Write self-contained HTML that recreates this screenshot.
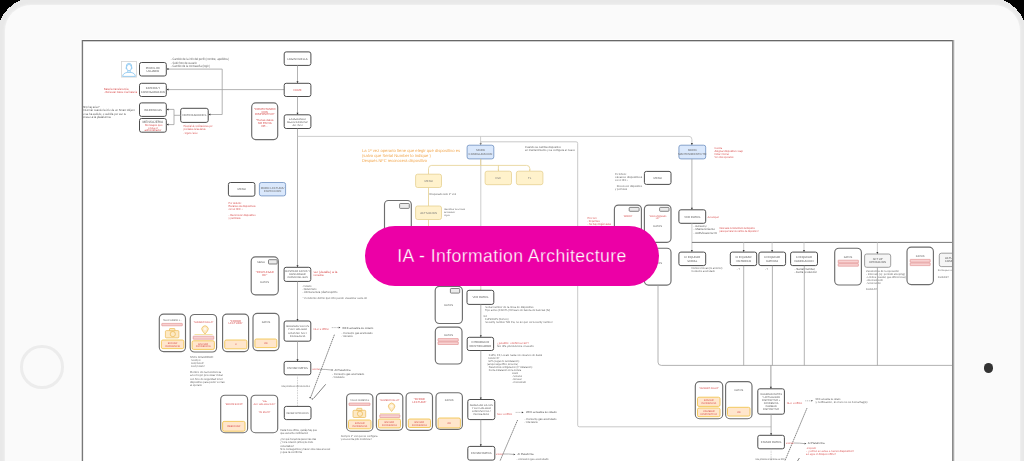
<!DOCTYPE html>
<html><head><meta charset="utf-8">
<style>
html,body{margin:0;padding:0;}
body{width:1024px;height:461px;overflow:hidden;background:#000;position:relative;font-family:"Liberation Sans",sans-serif;}
#frame{position:absolute;left:-4px;top:-4px;width:1032px;height:640px;background:#e8e8e8;}
#corners{position:absolute;left:0;top:0;}
#bezel{position:absolute;left:4.5px;top:4.5px;width:1015px;height:620px;border-radius:26px;background:#fafafa;box-shadow:0 0 2px 0.5px #f0f0f0;}
#home{position:absolute;left:20.3px;top:345.1px;width:37.5px;height:37.5px;border-radius:50%;border:3.5px solid #ececec;}
#cam{position:absolute;left:984.2px;top:363.4px;width:9.2px;height:9.2px;border-radius:50%;background:#333;}
#screen{position:absolute;left:82px;top:40px;width:869px;height:440px;border-left:1px solid #787878;border-top:1px solid #686868;border-right:1px solid #8a8a8a;background:#fff;box-shadow:1px 0 0 0 #ababab,2px 0 0 0 #e6e6e6,3px 0 0 0 #fdfdfd,-1px 0 0 0 #d8d8d8,-2px 0 0 0 #fdfdfd,0 -1px 0 0 #fefefe,inset 0 1px 0 0 #cfcfcf,inset 1px 0 0 0 #f0f0f0;}
#dg{position:absolute;left:0;top:0;}
#dg text{font-family:"Liberation Sans",sans-serif;text-rendering:geometricPrecision;}
#dg{filter:blur(0.3px);}
#clip{position:absolute;left:83px;top:41px;width:869px;height:430px;overflow:hidden;}
#pill{position:absolute;left:365px;top:226px;width:294px;height:59.6px;border-radius:30px;background:#ec00a6;color:#fff;font-size:17.6px;letter-spacing:0.43px;line-height:61.5px;text-align:center;white-space:nowrap;-webkit-text-stroke:0.3px #ec00a6;}
</style></head><body>
<div id="frame"></div>
<svg id="corners" width="1024" height="40" viewBox="0 0 1024 40"><path shape-rendering="crispEdges" fill="#000" d="M0,0 L20.5,0 A42.5,42.5 0 0 0 0,20.5 Z M1024,0 L1003.5,0 A42.5,42.5 0 0 1 1024,20.5 Z"/></svg>
<div id="bezel"></div>
<div id="home"></div>
<div id="cam"></div>
<div id="screen"></div>
<div id="clip">
<svg id="dg" width="1024" height="461" viewBox="83 41 1024 461" style="position:absolute;left:0;top:0">
<rect x="121.4" y="61.4" width="15" height="15.7" rx="0" fill="#fff" stroke="#d4d4d4" stroke-width="0.8" />
<g fill="none" stroke="#6cb8ec" stroke-width="0.65"><ellipse cx="129" cy="67.6" rx="2.5" ry="3.2"/><path d="M126.3,66.6 Q126.2,63.4 129,63.2 Q131.8,63.4 131.7,66.6"/><path d="M126.4,67.2 Q125.6,67.6 126.3,69 M131.6,67.2 Q132.4,67.6 131.7,69"/><path d="M127.8,70.6 V72.4 M130.2,70.6 V72.4"/><path d="M122.6,76.4 Q122.8,73.2 127.2,72.4 L130.8,72.4 Q135.2,73.2 135.4,76.4 Z"/></g>
<rect x="139.5" y="62.5" width="26.8" height="13.5" rx="2" fill="#fff" stroke="#4d4d4d" stroke-width="1.0" />
<text x="152.9" y="68.5" font-size="2.8" fill="#585858" text-anchor="middle">PERFIL DE</text>
<text x="152.9" y="71.9" font-size="2.8" fill="#585858" text-anchor="middle">USUARIO</text>
<rect x="139.5" y="83.3" width="26.8" height="13.2" rx="2" fill="#fff" stroke="#4d4d4d" stroke-width="1.0" />
<text x="152.9" y="89.2" font-size="2.8" fill="#585858" text-anchor="middle">BATERIA Y</text>
<text x="152.9" y="92.6" font-size="2.8" fill="#585858" text-anchor="middle">CONFIGURACION</text>
<rect x="139.5" y="102.9" width="26.8" height="13.5" rx="2" fill="#fff" stroke="#4d4d4d" stroke-width="1.0" />
<text x="152.9" y="110.6" font-size="2.8" fill="#585858" text-anchor="middle">INCIDENCIAS</text>
<rect x="139.5" y="118.5" width="26.8" height="13.7" rx="2" fill="#fff" stroke="#4d4d4d" stroke-width="1.0" />
<text x="152.9" y="122.8" font-size="3.24" fill="#5a5a5a" text-anchor="middle">MENSAJERIA</text>
<text x="152.9" y="125.8" font-size="2.8080000000000003" fill="#d85050" text-anchor="middle">- Mensajes que</text>
<text x="152.9" y="128.6" font-size="2.8080000000000003" fill="#d85050" text-anchor="middle">envia el</text>
<text x="152.9" y="131.4" font-size="2.8080000000000003" fill="#d85050" text-anchor="middle">administrador</text>
<rect x="180.7" y="108.3" width="27.5" height="14.1" rx="2" fill="#fff" stroke="#4d4d4d" stroke-width="1.0" />
<text x="194.4" y="116.3" font-size="2.8" fill="#585858" text-anchor="middle">NOTIFICACIONES</text>
<text x="170.8" y="60.3" font-size="3.132" fill="#666" text-anchor="start" textLength="58" lengthAdjust="spacingAndGlyphs">- Cambio de la info del perfil (nombre, apellidos)</text>
<text x="170.8" y="63.5" font-size="3.132" fill="#666" text-anchor="start" textLength="26" lengthAdjust="spacingAndGlyphs">- Subir foto de usuario</text>
<text x="170.8" y="66.7" font-size="3.132" fill="#666" text-anchor="start" textLength="39" lengthAdjust="spacingAndGlyphs">- Cambio de la contraseña (login)</text>
<text x="104" y="89.8" font-size="3.024" fill="#d85050" text-anchor="start" textLength="24.5" lengthAdjust="spacingAndGlyphs">Batería transferencia</text>
<text x="104" y="93" font-size="3.024" fill="#d85050" text-anchor="start" textLength="33" lengthAdjust="spacingAndGlyphs">- Refrescar Datos nivel batería</text>
<text x="81.5" y="108.2" font-size="3.024" fill="#555" text-anchor="start" textLength="18" lengthAdjust="spacingAndGlyphs">¿NFC hay aviso?</text>
<text x="81.5" y="111.4" font-size="3.024" fill="#555" text-anchor="start" textLength="53" lengthAdjust="spacingAndGlyphs">- Informar cuando la info de un Smart Object</text>
<text x="81.5" y="114.6" font-size="3.024" fill="#555" text-anchor="start" textLength="44.5" lengthAdjust="spacingAndGlyphs">no se ha subido, o subirla por ser tu</text>
<text x="81.5" y="117.8" font-size="3.024" fill="#555" text-anchor="start" textLength="29" lengthAdjust="spacingAndGlyphs">acceso a la plataforma</text>
<text x="183.5" y="127.3" font-size="3.024" fill="#d85050" text-anchor="start" textLength="29" lengthAdjust="spacingAndGlyphs">Historial de notificaciones por</text>
<text x="183.5" y="130.4" font-size="3.024" fill="#d85050" text-anchor="start" textLength="22" lengthAdjust="spacingAndGlyphs">prioridades de las alertas</text>
<text x="183.5" y="133.5" font-size="3.024" fill="#d85050" text-anchor="start" textLength="14" lengthAdjust="spacingAndGlyphs">- Urgente / aviso</text>
<path d="M166.3,69.1 H222.2 V114.5 H208.2" fill="none" stroke="#a0a0a0" stroke-width="0.8"/>
<polygon points="166.4,69.1 168.5,68.1 168.5,70.1" fill="#333"/>
<path d="M166.3,89.6 H284.2" fill="none" stroke="#a0a0a0" stroke-width="0.8"/>
<polygon points="166.4,89.6 168.5,88.6 168.5,90.6" fill="#333"/>
<path d="M180.7,115.3 H174 V109.4 H166.3 M174,115.3 V124.6 H166.3" fill="none" stroke="#a0a0a0" stroke-width="0.8"/>
<polygon points="166.4,109.4 168.5,108.4 168.5,110.4" fill="#333"/>
<polygon points="166.4,124.6 168.5,123.6 168.5,125.6" fill="#333"/>
<polygon points="208.3,114.5 210.4,113.5 210.4,115.5" fill="#333"/>
<rect x="284.2" y="51.9" width="26.7" height="13.5" rx="2" fill="#fff" stroke="#4d4d4d" stroke-width="1.0" />
<text x="297.5" y="59.6" font-size="2.8" fill="#585858" text-anchor="middle">LOGIN/HUELLA</text>
<path d="M297.5,65.4 V83.3" fill="none" stroke="#a0a0a0" stroke-width="0.8"/>
<polygon points="297.5,83.3 296.5,81.2 298.5,81.2" fill="#333"/>
<rect x="284.2" y="83.3" width="26.7" height="13.2" rx="2" fill="#fff" stroke="#4d4d4d" stroke-width="1.0" />
<text x="297.5" y="90.9" font-size="2.8" fill="#d85050" text-anchor="middle">HOME</text>
<path d="M297.5,96.5 V114.8" fill="none" stroke="#a0a0a0" stroke-width="0.8"/>
<polygon points="297.5,114.8 296.5,112.7 298.5,112.7" fill="#333"/>
<rect x="284.2" y="114.8" width="26.7" height="13.7" rx="2" fill="#fff" stroke="#4d4d4d" stroke-width="1.0" />
<text x="297.5" y="119.7" font-size="2.7" fill="#585858" text-anchor="middle">ESPERANDO</text>
<text x="297.5" y="122.6" font-size="2.7" fill="#585858" text-anchor="middle">MEDICION/DISP.</text>
<text x="297.5" y="125.5" font-size="2.7" fill="#585858" text-anchor="middle">ACTIVO</text>
<rect x="251.7" y="102.9" width="26" height="36.7" rx="4" fill="#fff" stroke="#6e6e6e" stroke-width="1.15" />
<text x="264.7" y="109.6" font-size="2.9160000000000004" fill="#d85050" text-anchor="middle">&quot;CONECTANDO</text>
<text x="264.7" y="112.5" font-size="2.9160000000000004" fill="#d85050" text-anchor="middle">CON</text>
<text x="264.7" y="115.4" font-size="2.9160000000000004" fill="#d85050" text-anchor="middle">DISPOSITIVO&quot;</text>
<text x="264.7" y="120.8" font-size="2.9160000000000004" fill="#d85050" text-anchor="middle">&quot;Tienes datos</text>
<text x="264.7" y="123.7" font-size="2.9160000000000004" fill="#d85050" text-anchor="middle">NO ENVIA</text>
<text x="264.7" y="126.6" font-size="2.9160000000000004" fill="#d85050" text-anchor="middle">DE...</text>
<path d="M297.5,128.5 V267.3" fill="none" stroke="#a0a0a0" stroke-width="0.8"/>
<polygon points="297.5,267.3 296.5,265.2 298.5,265.2" fill="#333"/>
<path d="M297.5,136.4 H689 Q691.9,136.4 691.9,139.3 V145.2" fill="none" stroke="#c2c2c2" stroke-width="0.8"/>
<polygon points="691.9,145.2 690.9,143.1 692.9,143.1" fill="#333"/>
<path d="M480.6,136.4 V145.2" fill="none" stroke="#c2c2c2" stroke-width="0.8"/>
<polygon points="480.6,145.2 479.6,143.1 481.6,143.1" fill="#333"/>
<rect x="228.4" y="182.5" width="26.5" height="13.7" rx="2" fill="#fff" stroke="#4d4d4d" stroke-width="1.0" />
<text x="241.7" y="190.3" font-size="2.8" fill="#585858" text-anchor="middle">MENU</text>
<rect x="259.4" y="182.5" width="26.2" height="13.4" rx="2" fill="#dae8fc" stroke="#6c8ebf" stroke-width="0.8" />
<text x="272.5" y="188.5" font-size="2.8" fill="#666" text-anchor="middle">MODO LECTURA/</text>
<text x="272.5" y="191.9" font-size="2.8" fill="#666" text-anchor="middle">INSPECCION</text>
<text x="228.6" y="203.5" font-size="2.9160000000000004" fill="#d85050" text-anchor="start" textLength="13" lengthAdjust="spacingAndGlyphs">Por defecto:</text>
<text x="228.6" y="206.5" font-size="2.9160000000000004" fill="#d85050" text-anchor="start" textLength="27" lengthAdjust="spacingAndGlyphs">Escaneo de dispositivos</text>
<text x="228.6" y="209.5" font-size="2.9160000000000004" fill="#d85050" text-anchor="start" textLength="14" lengthAdjust="spacingAndGlyphs">con el NFC ↓</text>
<text x="228.6" y="216.2" font-size="2.9160000000000004" fill="#d85050" text-anchor="start" textLength="27" lengthAdjust="spacingAndGlyphs">- Reconocer dispositivo</text>
<text x="228.6" y="219.2" font-size="2.9160000000000004" fill="#d85050" text-anchor="start" textLength="12" lengthAdjust="spacingAndGlyphs">y permisos</text>
<rect x="251.2" y="256.9" width="27.1" height="37.9" rx="4.3" fill="#fff" stroke="#6e6e6e" stroke-width="1.15" />
<text x="261" y="263" font-size="2.6" fill="#555" text-anchor="middle">MENU</text>
<rect x="268.5" y="259.7" width="8.7" height="4.3" rx="0.8" fill="#ececec" stroke="#555" stroke-width="0.7" />
<text x="264.7" y="273" font-size="2.8080000000000003" fill="#d85050" text-anchor="middle">&quot;DESPLEGAR</text>
<text x="264.7" y="276.2" font-size="2.8080000000000003" fill="#d85050" text-anchor="middle">DE&quot;</text>
<text x="264.7" y="283" font-size="2.6" fill="#555" text-anchor="middle">DATOS</text>
<rect x="284.1" y="267.3" width="26.7" height="14.1" rx="2" fill="#fff" stroke="#4d4d4d" stroke-width="1.0" />
<text x="297.5" y="272.4" font-size="2.6" fill="#585858" text-anchor="middle">MOSTRAR DATOS Y</text>
<text x="297.5" y="275.3" font-size="2.6" fill="#585858" text-anchor="middle">DESCARGAR</text>
<text x="297.5" y="278.2" font-size="2.6" fill="#585858" text-anchor="middle">CURVA DEL GAS</text>
<text x="313.4" y="272.9" font-size="3.024" fill="#d85050" text-anchor="start" textLength="24" lengthAdjust="spacingAndGlyphs">ver (detalle) a la</text>
<text x="313.4" y="276" font-size="3.024" fill="#d85050" text-anchor="start" textLength="10" lengthAdjust="spacingAndGlyphs">consulta</text>
<text x="302.5" y="286.6" font-size="2.9160000000000004" fill="#666" text-anchor="start" textLength="9" lengthAdjust="spacingAndGlyphs">- Consumo</text>
<text x="302.5" y="289.6" font-size="2.9160000000000004" fill="#666" text-anchor="start" textLength="14" lengthAdjust="spacingAndGlyphs">- Mantenimiento</text>
<text x="302.5" y="292.6" font-size="2.9160000000000004" fill="#666" text-anchor="start" textLength="35" lengthAdjust="spacingAndGlyphs">- Última lectura (día/hora)/info</text>
<text x="302.5" y="298.8" font-size="2.7" fill="#666" text-anchor="start" textLength="64.5" lengthAdjust="spacingAndGlyphs">* Pendiente definir qué info puede visualizar cada rol</text>
<path d="M297.5,281.4 V321" fill="none" stroke="#a0a0a0" stroke-width="0.8"/>
<polygon points="297.5,321 296.5,318.9 298.5,318.9" fill="#333"/>
<rect x="284.1" y="321" width="26.7" height="20.2" rx="2" fill="#fff" stroke="#4d4d4d" stroke-width="1.0" />
<text x="297.5" y="327.1" font-size="2.7" fill="#585858" text-anchor="middle">GUARDAR DATOS</text>
<text x="297.5" y="330.4" font-size="2.7" fill="#585858" text-anchor="middle">Y ACTUALIZAR</text>
<text x="297.5" y="333.7" font-size="2.7" fill="#585858" text-anchor="middle">DISPOSITIVO /</text>
<text x="297.5" y="337" font-size="2.7" fill="#585858" text-anchor="middle">INCIDENCIA</text>
<text x="313.4" y="329.8" font-size="2.7" fill="#d85050" text-anchor="start" textLength="15.6" lengthAdjust="spacingAndGlyphs">NFC u offline</text>
<path d="M331.8,327.6 H338.6" fill="none" stroke="#a0a0a0" stroke-width="0.8" stroke-dasharray="1,0.8"/>
<polygon points="340.4,327.6 338.7,326.8 338.7,328.4" fill="#333"/>
<text x="342.2" y="328.5" font-size="2.8" fill="#555" text-anchor="start" textLength="31" lengthAdjust="spacingAndGlyphs">WEB actualiza su estado</text>
<text x="341.6" y="334.2" font-size="2.9160000000000004" fill="#666" text-anchor="start" textLength="31" lengthAdjust="spacingAndGlyphs">- Consumo gas acumulado</text>
<text x="341.6" y="337.2" font-size="2.9160000000000004" fill="#666" text-anchor="start" textLength="11" lengthAdjust="spacingAndGlyphs">- Vida batería</text>
<path d="M297.5,341.2 V361.4" fill="none" stroke="#a0a0a0" stroke-width="0.8"/>
<polygon points="297.5,361.4 296.5,359.3 298.5,359.3" fill="#333"/>
<rect x="284.1" y="361.4" width="26.7" height="13.4" rx="2" fill="#fff" stroke="#4d4d4d" stroke-width="1.0" />
<text x="297.5" y="369.1" font-size="2.8" fill="#585858" text-anchor="middle">ENVIAR DATOS</text>
<text x="312.3" y="369.9" font-size="2.6" fill="#d85050" text-anchor="start" textLength="7.4" lengthAdjust="spacingAndGlyphs">anormal</text>
<path d="M319.6,369.3 Q326,369.3 331.5,370" fill="none" stroke="#a0a0a0" stroke-width="0.8"/>
<polygon points="333.3,370 331.6,369.2 331.6,370.8" fill="#333"/>
<text x="334.5" y="370.8" font-size="2.8" fill="#555" text-anchor="start" textLength="16" lengthAdjust="spacingAndGlyphs">Al Plataforma</text>
<text x="332.3" y="375" font-size="2.9160000000000004" fill="#666" text-anchor="start" textLength="32" lengthAdjust="spacingAndGlyphs">- Consumo gas acumulado</text>
<text x="332.3" y="378" font-size="2.9160000000000004" fill="#666" text-anchor="start" textLength="12" lengthAdjust="spacingAndGlyphs">- Vida batería</text>
<path d="M334.4,334.7 L310.6,397.5" fill="none" stroke="#5a5a5a" stroke-width="0.75" stroke-dasharray="1.6,0.6"/>
<polygon points="310.1,398.8 309.3,397.1 310.9,397.1" fill="#333"/>
<path d="M325.7,384.3 L313.5,398.5" fill="none" stroke="#5a5a5a" stroke-width="0.75"/>
<polygon points="312.2,400.1 311.4,398.4 313,398.4" fill="#333"/>
<path d="M297.5,374.8 V406.4" fill="none" stroke="#c4c4c4" stroke-width="0.8" stroke-dasharray="1.5,1"/>
<text x="281.5" y="387" font-size="2.7" fill="#555" text-anchor="start" textLength="28.6" lengthAdjust="spacingAndGlyphs">Una persona se conecta via NFC</text>
<rect x="284.3" y="406.4" width="26.7" height="13.2" rx="2" fill="#fff" stroke="#4d4d4d" stroke-width="1.0" />
<text x="297.6" y="413.9" font-size="2.6" fill="#585858" text-anchor="middle" textLength="22" lengthAdjust="spacingAndGlyphs">RECIBIR NOTIFICACION</text>
<text x="280.2" y="431" font-size="2.9160000000000004" fill="#666" text-anchor="start" textLength="36.7" lengthAdjust="spacingAndGlyphs">Cada hora offline, quizás hay que</text>
<text x="280.2" y="434.2" font-size="2.9160000000000004" fill="#666" text-anchor="start" textLength="28" lengthAdjust="spacingAndGlyphs">que escuche notificación</text>
<text x="280.2" y="440.3" font-size="2.9160000000000004" fill="#666" text-anchor="start" textLength="36" lengthAdjust="spacingAndGlyphs">¿Con qué frecuencia quieren las otras</text>
<text x="280.2" y="443.4" font-size="2.9160000000000004" fill="#666" text-anchor="start" textLength="33" lengthAdjust="spacingAndGlyphs">¿Y si la conexión (ambos) de modo</text>
<text x="280.2" y="446.5" font-size="2.9160000000000004" fill="#666" text-anchor="start" textLength="14" lengthAdjust="spacingAndGlyphs">conectados?</text>
<text x="280.2" y="449.6" font-size="2.9160000000000004" fill="#666" text-anchor="start" textLength="50" lengthAdjust="spacingAndGlyphs">Si lo conseguimos y hacer otra cosa a la vez</text>
<text x="280.2" y="452.7" font-size="2.9160000000000004" fill="#666" text-anchor="start" textLength="22" lengthAdjust="spacingAndGlyphs">y que la confirme</text>
<rect x="159.3" y="314.1" width="26.2" height="37.5" rx="4.3" fill="#fff" stroke="#6e6e6e" stroke-width="1.15" />
<text x="172.4" y="320.8" font-size="2.4" fill="#666" text-anchor="middle" textLength="19" lengthAdjust="spacingAndGlyphs">FALLO NUMERO 3 ...</text>
<rect x="161.8" y="323.4" width="20.5" height="2.4" rx="0.3" fill="#f8d2d2" stroke="#dc8080" stroke-width="0.55" />
<g fill="#fde9c4" stroke="#e8b040" stroke-width="0.6"><rect x="165.4" y="330.6" width="13.5" height="7.3" rx="1"/><rect x="169.5" y="328.5" width="5.4" height="2.3" rx="0.5"/><circle cx="172.8" cy="334.1" r="2.6"/></g>
<rect x="161.4" y="340" width="22.4" height="8.6" rx="1.5" fill="#ffe6cc" stroke="#f0c040" stroke-width="0.8" />
<text x="172.6" y="343.8" font-size="2.6" fill="#d85050" text-anchor="middle">ENVIAR</text>
<text x="172.6" y="346.6" font-size="2.6" fill="#d85050" text-anchor="middle">INCIDENCIA</text>
<rect x="190.2" y="314.5" width="26.4" height="37.5" rx="4.3" fill="#fff" stroke="#6e6e6e" stroke-width="1.15" />
<text x="203.4" y="322.9" font-size="2.5" fill="#d85050" text-anchor="middle" textLength="20" lengthAdjust="spacingAndGlyphs">&quot;NUMERO FALLO&quot;</text>
<path d="M205,334.2 L202.5,331 A3.2,3.2 0 1 1 207.5,331 Z" fill="#fdebc8" stroke="#e8b040" stroke-width="0.6"/><circle cx="205" cy="329" r="1.4" fill="#fff8ec" stroke="none"/>
<path d="M194.5,334.5 H212.6" fill="none" stroke="#f0dc90" stroke-width="0.8"/>
<rect x="193.2" y="336.2" width="20.6" height="3" rx="0.3" fill="#f8d2d2" stroke="#dc8080" stroke-width="0.55" />
<rect x="192.1" y="340.8" width="22.3" height="8.6" rx="1.5" fill="#ffe6cc" stroke="#f0c040" stroke-width="0.8" />
<text x="203.2" y="344.6" font-size="2.6" fill="#d85050" text-anchor="middle">ENVIAR</text>
<text x="203.2" y="347.4" font-size="2.6" fill="#d85050" text-anchor="middle">INCIDENCIA</text>
<rect x="222.6" y="314.1" width="26" height="37.5" rx="4.3" fill="#fff" stroke="#6e6e6e" stroke-width="1.15" />
<text x="235.6" y="321.6" font-size="2.8080000000000003" fill="#d85050" text-anchor="middle">&quot;ERROR</text>
<text x="235.6" y="324.4" font-size="2.8080000000000003" fill="#d85050" text-anchor="middle">LECTURA&quot;</text>
<rect x="224.7" y="340" width="22.2" height="8.8" rx="1.5" fill="#ffe6cc" stroke="#f0c040" stroke-width="0.8" />
<text x="235.8" y="345.3" font-size="2.6" fill="#d85050" text-anchor="middle">X</text>
<rect x="253" y="313.4" width="26" height="37.2" rx="4.3" fill="#fff" stroke="#6e6e6e" stroke-width="1.15" />
<text x="266" y="322.6" font-size="2.6" fill="#555" text-anchor="middle">DATOS</text>
<rect x="254.9" y="339" width="21.9" height="8.6" rx="1.5" fill="#ffe6cc" stroke="#f0c040" stroke-width="0.8" />
<text x="265.9" y="344.2" font-size="2.6" fill="#d85050" text-anchor="middle">OK</text>
<text x="190" y="358.3" font-size="2.8080000000000003" fill="#666" text-anchor="start" textLength="23.5" lengthAdjust="spacingAndGlyphs">NIVEL SEGURIDAD:</text>
<text x="190" y="361.3" font-size="2.8080000000000003" fill="#666" text-anchor="start" textLength="10.5" lengthAdjust="spacingAndGlyphs">- Security xx</text>
<text x="190" y="364.3" font-size="2.8080000000000003" fill="#666" text-anchor="start" textLength="14" lengthAdjust="spacingAndGlyphs">- Security Bluetooth?</text>
<text x="190" y="367.3" font-size="2.8080000000000003" fill="#666" text-anchor="start" textLength="15" lengthAdjust="spacingAndGlyphs">- Security Consumo?</text>
<text x="190" y="373.4" font-size="2.8080000000000003" fill="#666" text-anchor="start" textLength="31" lengthAdjust="spacingAndGlyphs">Dentro de la incidencia</text>
<text x="190" y="376.4" font-size="2.8080000000000003" fill="#666" text-anchor="start" textLength="33" lengthAdjust="spacingAndGlyphs">a lo mejor procesar mirar</text>
<text x="190" y="379.5" font-size="2.8080000000000003" fill="#666" text-anchor="start" textLength="33" lengthAdjust="spacingAndGlyphs">con foto de seguridad tener</text>
<text x="190" y="382.5" font-size="2.8080000000000003" fill="#666" text-anchor="start" textLength="34.7" lengthAdjust="spacingAndGlyphs">dispositivo para poder ver las</text>
<text x="190" y="385.6" font-size="2.8080000000000003" fill="#666" text-anchor="start" textLength="12" lengthAdjust="spacingAndGlyphs">al operario</text>
<rect x="220.7" y="395.2" width="26.9" height="37.5" rx="4.3" fill="#fff" stroke="#6e6e6e" stroke-width="1.15" />
<text x="234.2" y="405.2" font-size="2.5" fill="#d85050" text-anchor="middle" textLength="18" lengthAdjust="spacingAndGlyphs">&quot;ERROR ENVIO&quot;</text>
<rect x="222.6" y="421.4" width="22.4" height="9.8" rx="1.5" fill="#ffe6cc" stroke="#f0c040" stroke-width="0.8" />
<text x="233.8" y="427.2" font-size="2.6" fill="#d85050" text-anchor="middle">REENVIAR</text>
<rect x="251" y="395.2" width="26.7" height="37.5" rx="4.3" fill="#fff" stroke="#6e6e6e" stroke-width="1.15" />
<text x="264.4" y="402.3" font-size="2.7" fill="#d85050" text-anchor="middle" textLength="5" lengthAdjust="spacingAndGlyphs">&quot;DE</text>
<text x="264.4" y="405.1" font-size="2.7" fill="#d85050" text-anchor="middle" textLength="22" lengthAdjust="spacingAndGlyphs">ACTUALIZACION&quot;</text>
<text x="264.4" y="412.6" font-size="2.5" fill="#d85050" text-anchor="middle" textLength="12" lengthAdjust="spacingAndGlyphs">&quot;OK ENVIO&quot;</text>
<text x="361.9" y="152.4" font-size="4.104" fill="#f2a850" text-anchor="start" textLength="98.2" lengthAdjust="spacingAndGlyphs">La 1ª vez operario tiene que elegir qué dispositivo es</text>
<text x="361.9" y="157" font-size="4.104" fill="#f2a850" text-anchor="start" textLength="69" lengthAdjust="spacingAndGlyphs">(salvo que Serial Number lo indique )</text>
<text x="361.9" y="161.6" font-size="4.104" fill="#f2a850" text-anchor="start" textLength="65" lengthAdjust="spacingAndGlyphs">Después NFC reconocerá dispositivo</text>
<path d="M480.7,141.8 H576.1 Q577.7,141.8 577.7,143.4 V425.2 Q577.7,426.8 579.3,426.8 H771.1" fill="none" stroke="#bababa" stroke-width="0.8"/>
<path d="M480.8,141.8 V290.3" fill="none" stroke="#c0c0c0" stroke-width="0.8"/>
<rect x="467.1" y="145.2" width="26.7" height="13.7" rx="2" fill="#dae8fc" stroke="#6c8ebf" stroke-width="0.8" />
<text x="480.5" y="151.3" font-size="2.8" fill="#666" text-anchor="middle">MODO</text>
<text x="480.5" y="154.7" font-size="2.8" fill="#666" text-anchor="middle">CONFIGURACION</text>
<text x="525" y="147.6" font-size="2.9160000000000004" fill="#666" text-anchor="start" textLength="36" lengthAdjust="spacingAndGlyphs">Cuando se cambia dispositivo</text>
<text x="525" y="150.7" font-size="2.9160000000000004" fill="#666" text-anchor="start" textLength="50" lengthAdjust="spacingAndGlyphs">en mantenimiento y se configura el nuevo</text>
<path d="M480.7,158.9 V165.4 M428.5,174.2 V168.6 Q428.5,165.4 431.7,165.4 H526.6 Q529.8,165.4 529.8,168.6 V171.2 M498.4,165.4 V171.2" fill="none" stroke="#e6d090" stroke-width="0.8"/>
<polygon points="498.4,171.2 497.7,169.6 499.1,169.6" fill="#e6d090"/>
<polygon points="529.8,171.2 529.1,169.6 530.5,169.6" fill="#e6d090"/>
<rect x="485.1" y="171.2" width="26.4" height="13.5" rx="2" fill="#fff2cc" stroke="#e6d090" stroke-width="0.8" />
<text x="498.3" y="178.9" font-size="2.8" fill="#777" text-anchor="middle">ESE</text>
<rect x="516.4" y="171.2" width="26.5" height="13.5" rx="2" fill="#fff2cc" stroke="#e6d090" stroke-width="0.8" />
<text x="529.6" y="178.9" font-size="2.8" fill="#777" text-anchor="middle">TL</text>
<rect x="415.6" y="174.2" width="25.9" height="13.3" rx="2" fill="#fff2cc" stroke="#e6d090" stroke-width="0.8" />
<text x="428.6" y="181.8" font-size="2.8" fill="#777" text-anchor="middle">MENU</text>
<path d="M428.5,187.5 V206 M428.5,219.5 V240" fill="none" stroke="#e6d090" stroke-width="0.8"/>
<text x="429.6" y="195.2" font-size="2.8" fill="#666" text-anchor="start" textLength="26.6" lengthAdjust="spacingAndGlyphs">Bloqueado solo 1ª vez</text>
<rect x="415.6" y="206" width="25.9" height="13.5" rx="2" fill="#fff2cc" stroke="#e6d090" stroke-width="0.8" />
<text x="428.6" y="213.7" font-size="2.8" fill="#777" text-anchor="middle">ACTIVACION</text>
<text x="444" y="210.3" font-size="2.484" fill="#666" text-anchor="start" textLength="21" lengthAdjust="spacingAndGlyphs">Identificar la el nivel</text>
<text x="444" y="212.9" font-size="2.484" fill="#666" text-anchor="start" textLength="11" lengthAdjust="spacingAndGlyphs">del instalador</text>
<text x="444" y="215.5" font-size="2.484" fill="#666" text-anchor="start" textLength="6" lengthAdjust="spacingAndGlyphs">ninguno</text>
<rect x="384.5" y="200.5" width="26.8" height="49.5" rx="4" fill="#fff" stroke="#6e6e6e" stroke-width="1.15" />
<rect x="399.6" y="203.5" width="9.7" height="4.9" rx="0.8" fill="#ececec" stroke="#555" stroke-width="0.7" />
<polygon points="480.6,290.3 479.9,288.7 481.3,288.7" fill="#e6d090"/>
<rect x="435.2" y="286.3" width="27.2" height="37.2" rx="4.3" fill="#fff" stroke="#6e6e6e" stroke-width="1.15" />
<rect x="450.4" y="288.5" width="9.3" height="4.6" rx="0.8" fill="#ececec" stroke="#555" stroke-width="0.7" />
<text x="448.6" y="306.4" font-size="2.6" fill="#555" text-anchor="middle">DATOS</text>
<rect x="435.3" y="327.1" width="26.7" height="36.9" rx="4.3" fill="#fff" stroke="#6e6e6e" stroke-width="1.15" />
<text x="448.6" y="335.6" font-size="2.6" fill="#555" text-anchor="middle">DATOS</text>
<rect x="438" y="338.6" width="20.3" height="2.6" rx="0.3" fill="#f8d2d2" stroke="#dc8080" stroke-width="0.55" />
<rect x="438" y="341.9" width="20.3" height="2.6" rx="0.3" fill="#f8d2d2" stroke="#dc8080" stroke-width="0.55" />
<rect x="467" y="290.3" width="26.8" height="14.1" rx="2" fill="#fff" stroke="#4d4d4d" stroke-width="1.0" />
<text x="480.4" y="298.3" font-size="2.8" fill="#585858" text-anchor="middle">VER DATOS</text>
<text x="483.6" y="308" font-size="2.8080000000000003" fill="#666" text-anchor="start" textLength="50" lengthAdjust="spacingAndGlyphs">- Serial number de la línea de dispositivo</text>
<text x="483.6" y="311.2" font-size="2.8080000000000003" fill="#666" text-anchor="start" textLength="66.5" lengthAdjust="spacingAndGlyphs">- Tipo activo (ESE/TL) firmware de bateria de baterías (fw)</text>
<text x="483.6" y="316.6" font-size="2.6" fill="#666" text-anchor="start" textLength="3.5" lengthAdjust="spacingAndGlyphs">NO</text>
<text x="483.6" y="320" font-size="2.8080000000000003" fill="#666" text-anchor="start" textLength="25" lengthAdjust="spacingAndGlyphs">- CUPs/CUPS (Número)</text>
<text x="483.6" y="323.2" font-size="2.8080000000000003" fill="#666" text-anchor="start" textLength="69" lengthAdjust="spacingAndGlyphs">- Security number NO Fw, no sé qué es Security number</text>
<path d="M480.8,304.4 V337.3" fill="none" stroke="#a0a0a0" stroke-width="0.8"/>
<polygon points="480.8,337.3 479.8,335.2 481.8,335.2" fill="#333"/>
<rect x="467.2" y="337.3" width="26.4" height="13.2" rx="2" fill="#fff" stroke="#4d4d4d" stroke-width="1.0" />
<text x="480.4" y="343.2" font-size="2.8" fill="#585858" text-anchor="middle">INTRODUCIR</text>
<text x="480.4" y="346.6" font-size="2.8" fill="#585858" text-anchor="middle">IDENTIFICADOR</text>
<text x="497" y="344" font-size="2.7" fill="#d85050" text-anchor="start" textLength="32" lengthAdjust="spacingAndGlyphs">¿posible: confirmar 3P?</text>
<text x="497" y="347" font-size="2.6" fill="#666" text-anchor="start" textLength="36.8" lengthAdjust="spacingAndGlyphs">No IPs pendientes revisión</text>
<text x="487.2" y="356" font-size="2.8080000000000003" fill="#666" text-anchor="start" textLength="55" lengthAdjust="spacingAndGlyphs">- CUPs, FF, Locate nada con escaneo de datos</text>
<text x="487.2" y="359" font-size="2.8080000000000003" fill="#666" text-anchor="start" textLength="12" lengthAdjust="spacingAndGlyphs">- Customer ID?</text>
<text x="487.2" y="362" font-size="2.8080000000000003" fill="#666" text-anchor="start" textLength="32" lengthAdjust="spacingAndGlyphs">- GPS (Lugar de la instalación)</text>
<text x="487.2" y="365" font-size="2.8080000000000003" fill="#666" text-anchor="start" textLength="30.5" lengthAdjust="spacingAndGlyphs">  (aunque salga offline, sería otra)</text>
<text x="487.2" y="368" font-size="2.8080000000000003" fill="#666" text-anchor="start" textLength="45" lengthAdjust="spacingAndGlyphs">- Parámetros configuración (1ª instalación)</text>
<text x="487.2" y="371" font-size="2.8080000000000003" fill="#666" text-anchor="start" textLength="34" lengthAdjust="spacingAndGlyphs">- Fecha instalación de la lectura</text>
<text x="512" y="374.4" font-size="2.7" fill="#666" text-anchor="start" textLength="6.2" lengthAdjust="spacingAndGlyphs">Diario</text>
<text x="512" y="377.4" font-size="2.7" fill="#666" text-anchor="start" textLength="10" lengthAdjust="spacingAndGlyphs">- Semanal</text>
<text x="512" y="380.4" font-size="2.7" fill="#666" text-anchor="start" textLength="9.5" lengthAdjust="spacingAndGlyphs">- Mensual</text>
<text x="512" y="383.4" font-size="2.7" fill="#666" text-anchor="start" textLength="14" lengthAdjust="spacingAndGlyphs">- Personalizado</text>
<path d="M480.8,350.5 V399.5" fill="none" stroke="#a0a0a0" stroke-width="0.8"/>
<polygon points="480.8,399.5 479.8,397.4 481.8,397.4" fill="#333"/>
<rect x="467.8" y="399.5" width="27" height="20.1" rx="2" fill="#fff" stroke="#4d4d4d" stroke-width="1.0" />
<text x="481.3" y="405.5" font-size="2.7" fill="#585858" text-anchor="middle">GUARDAR DATOS</text>
<text x="481.3" y="408.8" font-size="2.7" fill="#585858" text-anchor="middle">Y ACTUALIZAR</text>
<text x="481.3" y="412.1" font-size="2.7" fill="#585858" text-anchor="middle">DISPOSITIVO /</text>
<text x="481.3" y="415.4" font-size="2.7" fill="#585858" text-anchor="middle">INCIDENCIA</text>
<text x="497.1" y="415.1" font-size="2.7" fill="#d85050" text-anchor="start" textLength="15.2" lengthAdjust="spacingAndGlyphs">NFC u offline</text>
<path d="M515.7,412.4 H521.8" fill="none" stroke="#a0a0a0" stroke-width="0.8" stroke-dasharray="1,0.8"/>
<polygon points="523.6,412.4 521.9,411.6 521.9,413.2" fill="#333"/>
<text x="526" y="413.2" font-size="2.8" fill="#555" text-anchor="start" textLength="30.7" lengthAdjust="spacingAndGlyphs">WEB actualiza su estado</text>
<text x="524.5" y="419.7" font-size="2.9160000000000004" fill="#666" text-anchor="start" textLength="32" lengthAdjust="spacingAndGlyphs">- Consumo gas acumulado</text>
<text x="524.5" y="423" font-size="2.9160000000000004" fill="#666" text-anchor="start" textLength="13" lengthAdjust="spacingAndGlyphs">- Vida batería</text>
<path d="M480.8,419.6 V446.4" fill="none" stroke="#a0a0a0" stroke-width="0.8"/>
<polygon points="480.8,446.4 479.8,444.3 481.8,444.3" fill="#333"/>
<rect x="467.8" y="446.4" width="27" height="13.7" rx="2" fill="#fff" stroke="#4d4d4d" stroke-width="1.0" />
<text x="481.3" y="454.2" font-size="2.8" fill="#585858" text-anchor="middle">ENVIAR DATOS</text>
<text x="496.1" y="454.6" font-size="2.6" fill="#d85050" text-anchor="start" textLength="7" lengthAdjust="spacingAndGlyphs">anormal</text>
<path d="M503.2,454 Q509,453.8 513.5,454.4" fill="none" stroke="#a0a0a0" stroke-width="0.8"/>
<polygon points="515.3,454.4 513.6,453.6 513.6,455.2" fill="#333"/>
<text x="517.6" y="455.2" font-size="2.8" fill="#555" text-anchor="start" textLength="16" lengthAdjust="spacingAndGlyphs">Al Plataforma</text>
<text x="516.5" y="460" font-size="2.7" fill="#666" text-anchor="start" textLength="32" lengthAdjust="spacingAndGlyphs">- Consumo gas acumulado</text>
<path d="M517.6,420 L500,461" fill="none" stroke="#5a5a5a" stroke-width="0.75" stroke-dasharray="1.6,0.6"/>
<rect x="346.6" y="393.7" width="26.3" height="37.5" rx="4.3" fill="#fff" stroke="#6e6e6e" stroke-width="1.15" />
<text x="359.8" y="401" font-size="2.4" fill="#666" text-anchor="middle" textLength="19" lengthAdjust="spacingAndGlyphs">FALLO NUMERO 3</text>
<rect x="349" y="403" width="21" height="2.4" rx="0.3" fill="#f8d2d2" stroke="#dc8080" stroke-width="0.55" />
<g fill="#fde9c4" stroke="#e8b040" stroke-width="0.6"><rect x="353" y="410.3" width="12.7" height="7.2" rx="1"/><rect x="356.8" y="408.3" width="5.1" height="2.3" rx="0.5"/><circle cx="360" cy="413.8" r="2.6"/></g>
<rect x="348.5" y="420" width="22.5" height="8.8" rx="1.5" fill="#ffe6cc" stroke="#f0c040" stroke-width="0.8" />
<text x="359.8" y="423.9" font-size="2.6" fill="#d85050" text-anchor="middle">ENVIAR</text>
<text x="359.8" y="426.7" font-size="2.6" fill="#d85050" text-anchor="middle">INCIDENCIA</text>
<rect x="376.4" y="393.3" width="26.4" height="37.1" rx="4.3" fill="#fff" stroke="#6e6e6e" stroke-width="1.15" />
<text x="389.6" y="401" font-size="2.5" fill="#d85050" text-anchor="middle" textLength="20" lengthAdjust="spacingAndGlyphs">&quot;NUMERO FALLO&quot;</text>
<path d="M391.6,411.5 L389.1,408.3 A3.2,3.2 0 1 1 394.1,408.3 Z" fill="#fdebc8" stroke="#e8b040" stroke-width="0.6"/><circle cx="391.6" cy="406.3" r="1.4" fill="#fff8ec" stroke="none"/>
<path d="M380,413.6 H399.9" fill="none" stroke="#f0dc90" stroke-width="0.8"/>
<rect x="379.8" y="414.8" width="20.1" height="2.7" rx="0.3" fill="#f8d2d2" stroke="#dc8080" stroke-width="0.55" />
<rect x="378.4" y="419" width="22.1" height="8.9" rx="1.5" fill="#ffe6cc" stroke="#f0c040" stroke-width="0.8" />
<text x="389.4" y="423" font-size="2.6" fill="#d85050" text-anchor="middle">ENVIAR</text>
<text x="389.4" y="425.8" font-size="2.6" fill="#d85050" text-anchor="middle">INCIDENCIA</text>
<rect x="406.1" y="392.7" width="26.4" height="37.7" rx="4.3" fill="#fff" stroke="#6e6e6e" stroke-width="1.15" />
<text x="419.3" y="400.2" font-size="2.8080000000000003" fill="#d85050" text-anchor="middle">&quot;ERROR</text>
<text x="419.3" y="403" font-size="2.8080000000000003" fill="#d85050" text-anchor="middle">LECTURA&quot;</text>
<rect x="408.3" y="419" width="22.2" height="8.5" rx="1.5" fill="#ffe6cc" stroke="#f0c040" stroke-width="0.8" />
<text x="419.4" y="422.8" font-size="2.6" fill="#d85050" text-anchor="middle">ENVIAR</text>
<text x="419.4" y="425.6" font-size="2.6" fill="#d85050" text-anchor="middle">INCIDENCIA</text>
<rect x="436" y="392.7" width="26.4" height="36.7" rx="4.3" fill="#fff" stroke="#6e6e6e" stroke-width="1.15" />
<text x="449.2" y="401.4" font-size="2.6" fill="#555" text-anchor="middle">DATOS</text>
<rect x="438" y="418" width="22.4" height="9.9" rx="1.5" fill="#ffe6cc" stroke="#f0c040" stroke-width="0.8" />
<text x="449.2" y="423.9" font-size="2.6" fill="#d85050" text-anchor="middle">OK</text>
<text x="340.7" y="436.8" font-size="2.8080000000000003" fill="#666" text-anchor="start" textLength="36.7" lengthAdjust="spacingAndGlyphs">Siempre 1ª vez que se configura</text>
<text x="340.7" y="440.1" font-size="2.8080000000000003" fill="#666" text-anchor="start" textLength="31" lengthAdjust="spacingAndGlyphs">y una cuenta pide incidencia?</text>
<rect x="678.9" y="145.2" width="26.8" height="13.7" rx="2" fill="#dae8fc" stroke="#6c8ebf" stroke-width="0.8" />
<text x="692.3" y="151.3" font-size="2.8" fill="#666" text-anchor="middle">MODO</text>
<text x="692.3" y="154.7" font-size="2.8" fill="#666" text-anchor="middle">MANTENIMIENTO TM</text>
<text x="713" y="149.2" font-size="2.8080000000000003" fill="#d85050" text-anchor="start" textLength="9" lengthAdjust="spacingAndGlyphs">- Cuenta</text>
<text x="713" y="152.2" font-size="2.8080000000000003" fill="#d85050" text-anchor="start" textLength="30" lengthAdjust="spacingAndGlyphs">- Asignar dispositivo viaje</text>
<text x="713" y="155.2" font-size="2.8080000000000003" fill="#d85050" text-anchor="start" textLength="16" lengthAdjust="spacingAndGlyphs">- Editar / Borrar</text>
<text x="713" y="158.2" font-size="2.8080000000000003" fill="#d85050" text-anchor="start" textLength="20.5" lengthAdjust="spacingAndGlyphs">- Ver otros operarios</text>
<text x="615.1" y="174.8" font-size="2.8080000000000003" fill="#666" text-anchor="start" textLength="11.5" lengthAdjust="spacingAndGlyphs">Por defecto:</text>
<text x="615.1" y="177.7" font-size="2.8080000000000003" fill="#666" text-anchor="start" textLength="27" lengthAdjust="spacingAndGlyphs">escaneo dispositivos</text>
<text x="615.1" y="180.6" font-size="2.8080000000000003" fill="#666" text-anchor="start" textLength="13" lengthAdjust="spacingAndGlyphs">con el NFC ↓</text>
<text x="615.1" y="186.6" font-size="2.8080000000000003" fill="#666" text-anchor="start" textLength="27" lengthAdjust="spacingAndGlyphs">- Reconocer dispositivo</text>
<text x="615.1" y="190" font-size="2.8080000000000003" fill="#666" text-anchor="start" textLength="12" lengthAdjust="spacingAndGlyphs">y permisos</text>
<rect x="644.4" y="171.4" width="26.6" height="13" rx="2" fill="#fff" stroke="#4d4d4d" stroke-width="1.0" />
<text x="657.7" y="178.9" font-size="2.8" fill="#585858" text-anchor="middle">MENU</text>
<rect x="614.4" y="205.1" width="27" height="39.9" rx="4" fill="#fff" stroke="#6e6e6e" stroke-width="1.15" />
<rect x="629.2" y="207.4" width="9.9" height="3.9" rx="0.8" fill="#ececec" stroke="#555" stroke-width="0.7" />
<text x="627.9" y="217.4" font-size="2.6" fill="#d85050" text-anchor="middle" textLength="9" lengthAdjust="spacingAndGlyphs">&quot;ERROR&quot;</text>
<rect x="644.4" y="205.1" width="26.6" height="37.2" rx="4" fill="#fff" stroke="#6e6e6e" stroke-width="1.15" />
<rect x="659.6" y="207.4" width="9.4" height="3.9" rx="0.8" fill="#ececec" stroke="#555" stroke-width="0.7" />
<text x="657.7" y="216.6" font-size="2.7" fill="#d85050" text-anchor="middle" textLength="17" lengthAdjust="spacingAndGlyphs">&quot;Sistema bloqueado</text>
<text x="657.7" y="219.4" font-size="2.7" fill="#d85050" text-anchor="middle" textLength="4" lengthAdjust="spacingAndGlyphs">OK&quot;</text>
<text x="657.7" y="226.8" font-size="2.6" fill="#555" text-anchor="middle">DATOS</text>
<text x="587.6" y="219" font-size="2.9160000000000004" fill="#d85050" text-anchor="start" textLength="9.5" lengthAdjust="spacingAndGlyphs">Error con:</text>
<text x="587.6" y="222.2" font-size="2.9160000000000004" fill="#d85050" text-anchor="start" textLength="12" lengthAdjust="spacingAndGlyphs">- Sin permisos</text>
<text x="587.6" y="225.4" font-size="2.9160000000000004" fill="#d85050" text-anchor="start" textLength="23.5" lengthAdjust="spacingAndGlyphs">- No hay ningún aviso</text>
<path d="M691.9,158.9 V209.8" fill="none" stroke="#a0a0a0" stroke-width="0.8"/>
<polygon points="691.9,209.8 690.9,207.7 692.9,207.7" fill="#333"/>
<rect x="678.9" y="209.8" width="26.8" height="13.5" rx="2" fill="#fff" stroke="#4d4d4d" stroke-width="1.0" />
<text x="692.3" y="217.5" font-size="2.8" fill="#585858" text-anchor="middle">VER DATOS</text>
<text x="707.6" y="217.6" font-size="2.6" fill="#d85050" text-anchor="start" textLength="11.4" lengthAdjust="spacingAndGlyphs">Arranque</text>
<text x="693.6" y="227.1" font-size="3.024" fill="#555" text-anchor="start" textLength="12.8" lengthAdjust="spacingAndGlyphs">- Consumo</text>
<text x="693.6" y="230.3" font-size="3.024" fill="#555" text-anchor="start" textLength="21.3" lengthAdjust="spacingAndGlyphs">- Mantenimiento</text>
<text x="693.6" y="233.6" font-size="3.024" fill="#555" text-anchor="start" textLength="23.4" lengthAdjust="spacingAndGlyphs">- CUPs/Customer ID</text>
<text x="719.5" y="229.1" font-size="2.9160000000000004" fill="#d85050" text-anchor="start" textLength="35.4" lengthAdjust="spacingAndGlyphs">Datos reales de mantenimiento del dispositivo</text>
<text x="719.5" y="232.4" font-size="2.9160000000000004" fill="#d85050" text-anchor="start" textLength="39.3" lengthAdjust="spacingAndGlyphs">para que hacer de cambio de dispositivo?</text>
<path d="M691.9,223.3 V252.1" fill="none" stroke="#c0c0c0" stroke-width="0.8"/>
<path d="M691.9,242.4 H952" fill="none" stroke="#6a6a6a" stroke-width="0.9"/>
<polygon points="691.9,252.1 690.9,250 692.9,250" fill="#333"/>
<path d="M743.7,242.4 V252.1" fill="none" stroke="#c0c0c0" stroke-width="0.8"/>
<polygon points="743.7,252.1 742.7,250 744.7,250" fill="#333"/>
<path d="M772.1,242.4 V252.1" fill="none" stroke="#c0c0c0" stroke-width="0.8"/>
<polygon points="772.1,252.1 771.1,250 773.1,250" fill="#333"/>
<path d="M804,242.4 V252.1" fill="none" stroke="#c0c0c0" stroke-width="0.8"/>
<polygon points="804,252.1 803,250 805,250" fill="#333"/>
<path d="M877.4,242.4 V254" fill="none" stroke="#c0c0c0" stroke-width="0.8"/>
<polygon points="877.4,254 876.4,251.9 878.4,251.9" fill="#333"/>
<rect x="678.9" y="252.1" width="26.8" height="13.5" rx="2" fill="#fff" stroke="#4d4d4d" stroke-width="1.0" />
<text x="692.3" y="258.1" font-size="2.8" fill="#585858" text-anchor="middle">CHEQUEAR</text>
<text x="692.3" y="261.5" font-size="2.8" fill="#585858" text-anchor="middle">SERIAL</text>
<rect x="730.3" y="252.1" width="26.4" height="13.5" rx="2" fill="#fff" stroke="#4d4d4d" stroke-width="1.0" />
<text x="743.5" y="258.1" font-size="2.8" fill="#585858" text-anchor="middle">CHEQUEAR</text>
<text x="743.5" y="261.5" font-size="2.8" fill="#585858" text-anchor="middle">HISTORICO</text>
<rect x="758.9" y="252.1" width="26.7" height="13.5" rx="2" fill="#fff" stroke="#4d4d4d" stroke-width="1.0" />
<text x="772.2" y="258.1" font-size="2.8" fill="#585858" text-anchor="middle">CHEQUEAR</text>
<text x="772.2" y="261.5" font-size="2.8" fill="#585858" text-anchor="middle">BATERIA</text>
<rect x="790.6" y="252.1" width="26.9" height="13.5" rx="2" fill="#fff" stroke="#4d4d4d" stroke-width="1.0" />
<text x="804" y="258.1" font-size="2.8" fill="#585858" text-anchor="middle">CHEQUEAR</text>
<text x="804" y="261.5" font-size="2.8" fill="#585858" text-anchor="middle">FABRICACION</text>
<text x="690" y="269.2" font-size="2.8080000000000003" fill="#666" text-anchor="start" textLength="32.5" lengthAdjust="spacingAndGlyphs">- Número líneas (lo anterior)</text>
<text x="690" y="272.3" font-size="2.8080000000000003" fill="#666" text-anchor="start" textLength="25" lengthAdjust="spacingAndGlyphs">- Consumo acumulado</text>
<text x="736.8" y="269.5" font-size="2.6" fill="#666" text-anchor="start">- ?</text>
<text x="765" y="269.5" font-size="2.6" fill="#666" text-anchor="start">- ?</text>
<text x="794.4" y="270.2" font-size="2.9160000000000004" fill="#555" text-anchor="start" textLength="20.6" lengthAdjust="spacingAndGlyphs">- Serial Number</text>
<text x="794.4" y="273.1" font-size="2.9160000000000004" fill="#555" text-anchor="start" textLength="22.6" lengthAdjust="spacingAndGlyphs">- Fecha producción</text>
<rect x="834.7" y="248.2" width="26.7" height="36.8" rx="4.3" fill="#fff" stroke="#6e6e6e" stroke-width="1.15" />
<text x="848" y="257.8" font-size="2.6" fill="#555" text-anchor="middle">DATOS</text>
<rect x="838.2" y="260.2" width="20.2" height="2.7" rx="0.3" fill="#f8d2d2" stroke="#dc8080" stroke-width="0.55" />
<rect x="838.2" y="263.6" width="20.2" height="2.6" rx="0.3" fill="#f8d2d2" stroke="#dc8080" stroke-width="0.55" />
<rect x="864.6" y="254" width="26.1" height="13.3" rx="2" fill="#f5f5f5" stroke="#888" stroke-width="0.8" />
<text x="877.7" y="259.9" font-size="2.8" fill="#585858" text-anchor="middle">SET UP</text>
<text x="877.7" y="263.3" font-size="2.8" fill="#585858" text-anchor="middle">OPERACION</text>
<text x="866" y="272" font-size="2.7" fill="#666" text-anchor="start" textLength="33" lengthAdjust="spacingAndGlyphs">Parámetros de la operación</text>
<text x="866" y="275.1" font-size="2.7" fill="#666" text-anchor="start" textLength="39" lengthAdjust="spacingAndGlyphs">- Intervalo (ej: periodo sleeping)</text>
<text x="866" y="278.2" font-size="2.7" fill="#666" text-anchor="start" textLength="39.6" lengthAdjust="spacingAndGlyphs">- Límites (caudal, gas diferencias)</text>
<text x="866" y="281.3" font-size="2.7" fill="#666" text-anchor="start" textLength="17" lengthAdjust="spacingAndGlyphs">- Alta desconexión</text>
<text x="866" y="284.4" font-size="2.7" fill="#666" text-anchor="start" textLength="15" lengthAdjust="spacingAndGlyphs">- Serial number</text>
<text x="866" y="290.4" font-size="2.6" fill="#666" text-anchor="start" textLength="11" lengthAdjust="spacingAndGlyphs">DUDAS?</text>
<rect x="907" y="247.1" width="26.4" height="37.5" rx="4.3" fill="#fff" stroke="#6e6e6e" stroke-width="1.15" />
<text x="920.2" y="257.3" font-size="2.6" fill="#555" text-anchor="middle">DATOS</text>
<rect x="910.2" y="259.4" width="20" height="2.8" rx="0.3" fill="#f8d2d2" stroke="#dc8080" stroke-width="0.55" />
<rect x="910.2" y="262.9" width="20" height="2.7" rx="0.3" fill="#f8d2d2" stroke="#dc8080" stroke-width="0.55" />
<rect x="939.3" y="253.2" width="20.7" height="13.4" rx="2" fill="#f5f5f5" stroke="#888" stroke-width="0.8" />
<text x="945" y="259.3" font-size="2.8080000000000003" fill="#555" text-anchor="start">ACTU...</text>
<text x="945" y="262.2" font-size="2.8080000000000003" fill="#555" text-anchor="start">COMUNIC...</text>
<text x="937.8" y="271" font-size="2.5" fill="#666" text-anchor="start" textLength="14" lengthAdjust="spacingAndGlyphs">Sin bloqueo no</text>
<text x="937.8" y="277.6" font-size="2.6" fill="#666" text-anchor="start" textLength="11" lengthAdjust="spacingAndGlyphs">DUDAS?</text>
<rect x="644.4" y="248.2" width="26.6" height="36.9" rx="4" fill="#fff" stroke="#6e6e6e" stroke-width="1.15" />
<text x="657.7" y="264.2" font-size="2.6" fill="#555" text-anchor="middle">DATOS</text>
<path d="M658,285.1 V362.1 Q658,365.4 661.3,365.4 H952" fill="none" stroke="#a0a0a0" stroke-width="0.8"/>
<path d="M743.7,265.6 V365.4 M772.4,265.6 V365.4 M804.3,265.6 V365.4 M877.4,267.3 V365.4" fill="none" stroke="#a0a0a0" stroke-width="0.8"/>
<path d="M770.9,365.4 V388.8" fill="none" stroke="#888" stroke-width="0.8"/>
<polygon points="770.9,388.8 769.9,386.7 771.9,386.7" fill="#333"/>
<rect x="695.3" y="381.6" width="27.4" height="37.1" rx="4.3" fill="#fff" stroke="#6e6e6e" stroke-width="1.15" />
<text x="709" y="388.9" font-size="2.5" fill="#d85050" text-anchor="middle" textLength="20" lengthAdjust="spacingAndGlyphs">&quot;NUMERO FALLO&quot;</text>
<rect x="697.5" y="397.2" width="22.5" height="9.2" rx="1.5" fill="#ffe6cc" stroke="#f0c040" stroke-width="0.8" />
<text x="708.8" y="401.3" font-size="2.6" fill="#d85050" text-anchor="middle">ENVIAR</text>
<text x="708.8" y="404.1" font-size="2.6" fill="#d85050" text-anchor="middle">INCIDENCIA</text>
<rect x="697.5" y="408" width="22.5" height="8.7" rx="1.5" fill="#ffe6cc" stroke="#f0c040" stroke-width="0.8" />
<text x="708.8" y="411.9" font-size="2.6" fill="#d85050" text-anchor="middle">CAMBIAR</text>
<text x="708.8" y="414.7" font-size="2.6" fill="#d85050" text-anchor="middle">DISPOSITIVO</text>
<rect x="725.6" y="381.6" width="26.4" height="37.1" rx="4.3" fill="#fff" stroke="#6e6e6e" stroke-width="1.15" />
<text x="738.8" y="390.6" font-size="2.6" fill="#555" text-anchor="middle">DATOS</text>
<rect x="727.5" y="407.3" width="22.5" height="8.8" rx="1.5" fill="#ffe6cc" stroke="#f0c040" stroke-width="0.8" />
<text x="738.8" y="412.6" font-size="2.6" fill="#d85050" text-anchor="middle">OK</text>
<rect x="757.8" y="388.8" width="26.6" height="25.4" rx="2" fill="#fff" stroke="#4d4d4d" stroke-width="1.0" />
<text x="771.1" y="394.9" font-size="2.5" fill="#585858" text-anchor="middle">GUARDAR DATOS</text>
<text x="771.1" y="397.9" font-size="2.5" fill="#585858" text-anchor="middle">Y ACTUALIZAR</text>
<text x="771.1" y="400.9" font-size="2.5" fill="#585858" text-anchor="middle">DISPOSITIVO +</text>
<text x="771.1" y="403.9" font-size="2.5" fill="#585858" text-anchor="middle">INCIDENCIA</text>
<text x="771.1" y="406.9" font-size="2.5" fill="#585858" text-anchor="middle">CAMBIAR</text>
<text x="771.1" y="409.9" font-size="2.5" fill="#585858" text-anchor="middle">DISPOSITIVO</text>
<path d="M771.1,414.2 V435.3" fill="none" stroke="#a0a0a0" stroke-width="0.8"/>
<polygon points="771.1,435.3 770.1,433.2 772.1,433.2" fill="#333"/>
<rect x="757.8" y="435.3" width="26.6" height="13.5" rx="2" fill="#fff" stroke="#4d4d4d" stroke-width="1.0" />
<text x="771.1" y="443" font-size="2.8" fill="#585858" text-anchor="middle">ENVIAR DATOS</text>
<text x="786.7" y="403.8" font-size="2.7" fill="#d85050" text-anchor="start" textLength="15.6" lengthAdjust="spacingAndGlyphs">NFC u offline</text>
<path d="M805.3,400.8 H811.2" fill="none" stroke="#a0a0a0" stroke-width="0.8" stroke-dasharray="1,0.8"/>
<polygon points="813,400.8 811.3,400 811.3,401.6" fill="#333"/>
<text x="815.5" y="399.8" font-size="2.8080000000000003" fill="#666" text-anchor="start" textLength="25" lengthAdjust="spacingAndGlyphs">WEB actualiza su estado</text>
<text x="815.5" y="403.1" font-size="2.8080000000000003" fill="#666" text-anchor="start" textLength="52" lengthAdjust="spacingAndGlyphs">y notificación, si envío no se borra flag(s)</text>
<path d="M807,408.1 L784.8,461" fill="none" stroke="#5a5a5a" stroke-width="0.75" stroke-dasharray="1.6,0.6"/>
<text x="786.1" y="443.6" font-size="2.6" fill="#d85050" text-anchor="start" textLength="7.5" lengthAdjust="spacingAndGlyphs">anormal</text>
<path d="M793.8,443 Q800,443 804.5,443.6" fill="none" stroke="#a0a0a0" stroke-width="0.8"/>
<polygon points="806.3,443.6 804.6,442.8 804.6,444.4" fill="#333"/>
<text x="807.8" y="444.4" font-size="2.8" fill="#555" text-anchor="start" textLength="16.8" lengthAdjust="spacingAndGlyphs">Al Plataforma</text>
<text x="806.1" y="448.9" font-size="2.7" fill="#d85050" text-anchor="start" textLength="10" lengthAdjust="spacingAndGlyphs">- Al operador</text>
<text x="806.1" y="452" font-size="2.7" fill="#d85050" text-anchor="start" textLength="48" lengthAdjust="spacingAndGlyphs">- ¿Cómo se avisa a nuevo dispositivo?</text>
<text x="806.1" y="455.1" font-size="2.7" fill="#d85050" text-anchor="start" textLength="30" lengthAdjust="spacingAndGlyphs">En apps en bloqueo offline?</text>
<path d="M771.1,448.8 V461" fill="none" stroke="#c4c4c4" stroke-width="0.8" stroke-dasharray="1.5,1"/>
<text x="755.5" y="460.4" font-size="2.6" fill="#555" text-anchor="start" textLength="29.3" lengthAdjust="spacingAndGlyphs">Una persona se conecta via NFC</text>
<path d="M799.4,458 L797.5,461" fill="none" stroke="#5a5a5a" stroke-width="0.75"/>
</svg>
</div>
<div id="pill">IA - Information Architecture</div>
</body></html>
